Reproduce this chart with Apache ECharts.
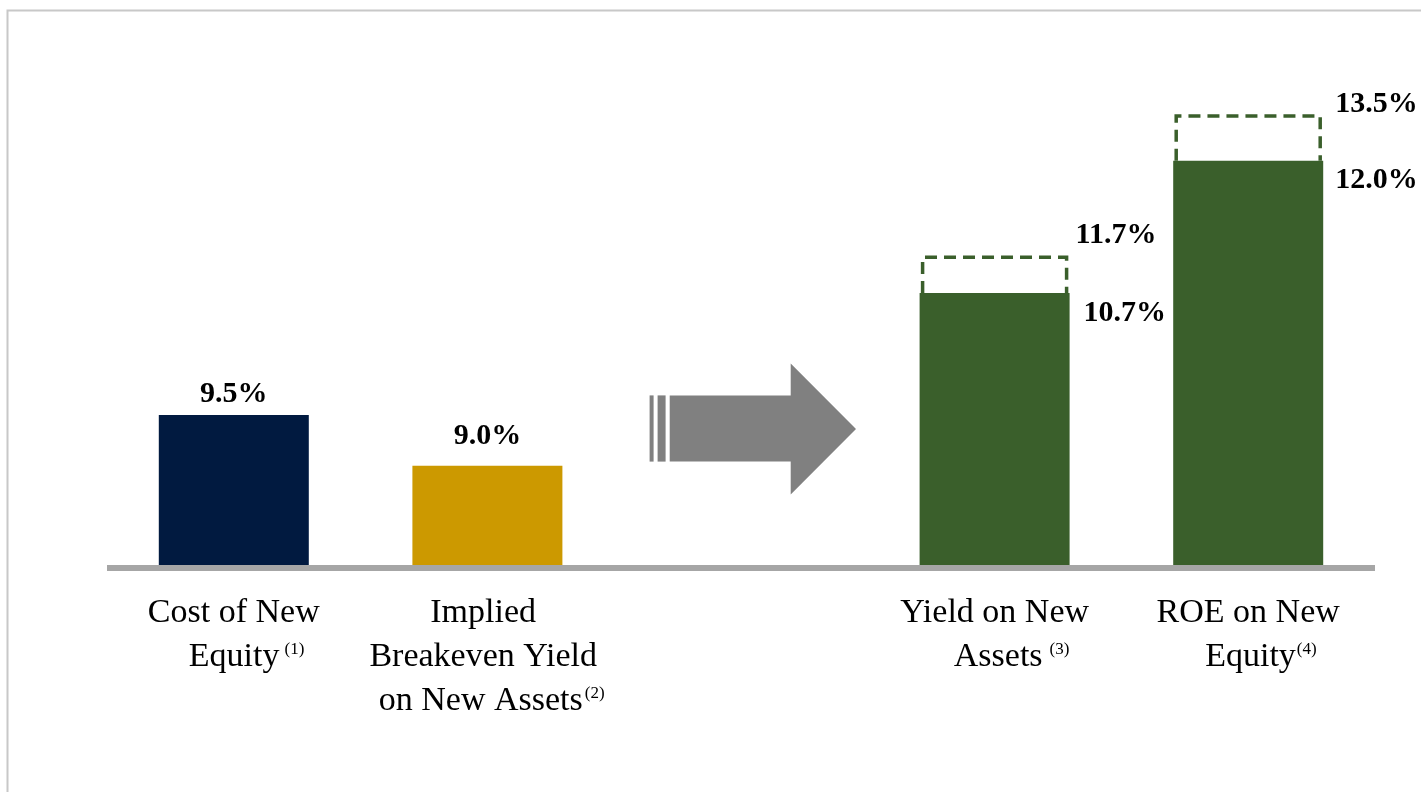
<!DOCTYPE html>
<html>
<head>
<meta charset="utf-8">
<script src="https://cdn.jsdelivr.net/npm/echarts@6/dist/echarts.min.js"></script>
<style>
html,body{margin:0;padding:0;background:#ffffff;}
#chart{width:1421px;height:792px;}
</style>
</head>
<body>
<div id="chart"></div>
<script>
// ---- data ----
const categories = [
  'Cost of New\nEquity',
  'Implied\nBreakeven Yield\non New Assets',
  '',
  'Yield on New\nAssets',
  'ROE on New\nEquity'
];
const footnotes = ['(1)', '(2)', '', '(3)', '(4)'];
const baseValues = [9.5, 9.0, null, 10.7, 12.0];
const upsideValues = [null, null, null, 11.7, 13.5];
// drawn height of the dashed "upside" boxes (the source draws them not to scale)
const upsideBoxHeights = [null, null, null, 0.35, 0.44];

// ---- styles / layout ----
const barColors = ['#011A40', '#CC9900', null, '#3A5F2B', '#3A5F2B'];
const green = '#3A5F2B';
const BAR_W = 150;
const lineIndent = [[0, 3], [0, 0, 1], [], [0, 4], [0, 3]];
const lineTrail = [[0, 0], [1, 1, 0], [], [0, 0], [0, 0]];
const footPad = [5, 2, 0, 7, 1];
const serif = '"Liberation Serif", "Times New Roman", serif';

const valueLabelBase = {
  show: true,
  fontFamily: serif,
  fontWeight: 'bold',
  fontSize: 30,
  color: '#000000'
};
const baseLabelLayout = [
  { position: 'top', distance: 6 },
  { position: 'top', distance: 15 },
  null,
  { position: ['100%', 0], align: 'left', verticalAlign: 'middle', offset: [14, 20] },
  { position: ['100%', 0], align: 'left', verticalAlign: 'middle', offset: [12, 20] }
];
const upsideLabelLayout = [
  null, null, null,
  { position: ['100%', 0], align: 'left', verticalAlign: 'middle', offset: [6, -22] },
  { position: ['100%', 0], align: 'left', verticalAlign: 'middle', offset: [12, -12] }
];

const baseData = baseValues.map((v, i) => v == null ? '-' : {
  value: v,
  itemStyle: { color: barColors[i] },
  label: Object.assign({}, valueLabelBase, baseLabelLayout[i])
});
const upsideData = upsideBoxHeights.map((v, i) => v == null ? '-' : {
  value: v,
  label: Object.assign({}, valueLabelBase, upsideLabelLayout[i])
});
const outlineData = [];
upsideBoxHeights.forEach((h, i) => {
  if (h != null) outlineData.push([i, baseValues[i], baseValues[i] + h]);
});

function sp(n) { return ' '.repeat(n); }

const chart = echarts.init(document.getElementById('chart'));
chart.setOption({
  backgroundColor: '#ffffff',
  animation: false,
  grid: { left: 107, right: 46, top: 59, bottom: 224.5, containLabel: false },
  xAxis: {
    type: 'category',
    data: categories,
    z: 10,
    axisLine: { show: true, lineStyle: { color: '#A6A6A6', width: 6, cap: 'butt' } },
    axisTick: { show: false },
    splitLine: { show: false },
    axisLabel: {
      interval: 0,
      margin: 24,
      formatter: function (value, index) {
        if (!value) return '';
        const lines = value.split('\n');
        return lines.map((ln, li) => {
          const ind = (lineIndent[index] && lineIndent[index][li]) || 0;
          const tr = (lineTrail[index] && lineTrail[index][li]) || 0;
          let s = '{t|' + sp(ind) + ln + sp(tr) + '}';
          if (li === lines.length - 1 && footnotes[index]) {
            s = '{t|' + sp(ind) + ln + '}{s' + index + '|' + footnotes[index] + '}';
          }
          return s;
        }).join('\n');
      },
      rich: (function () {
        const r = { t: { fontFamily: serif, fontSize: 34, lineHeight: 44, color: '#000000' } };
        footPad.forEach((p, i) => {
          r['s' + i] = { fontFamily: serif, fontSize: 17, lineHeight: 20, color: '#000000', verticalAlign: 'top', padding: [6, 0, 0, p] };
        });
        return r;
      })()
    }
  },
  yAxis: {
    type: 'value',
    min: 8,
    max: 13,
    show: false,
    splitLine: { show: false }
  },
  series: [
    {
      name: 'Base',
      type: 'bar',
      stack: 'total',
      barWidth: BAR_W,
      data: baseData,
      label: Object.assign({}, valueLabelBase, {
        formatter: p => p.value.toFixed(1) + '%'
      })
    },
    {
      name: 'Upside',
      type: 'bar',
      stack: 'total',
      barWidth: BAR_W,
      data: upsideData,
      itemStyle: { color: 'rgba(0,0,0,0)', borderWidth: 0 },
      label: Object.assign({}, valueLabelBase, {
        formatter: p => upsideValues[p.dataIndex].toFixed(1) + '%'
      })
    },
    {
      name: 'UpsideOutline',
      type: 'custom',
      silent: true,
      z: 3,
      data: outlineData,
      encode: { x: 0, y: [1, 2] },
      renderItem: function (params, api) {
        const bottom = api.coord([api.value(0), api.value(1)]);
        const top = api.coord([api.value(0), api.value(2)]);
        const inset = 3;
        const x0 = bottom[0] - BAR_W / 2 + inset;
        const x1 = bottom[0] + BAR_W / 2 - inset;
        return {
          type: 'polyline',
          shape: { points: [[x0, bottom[1]], [x0, top[1]], [x1, top[1]], [x1, bottom[1]]] },
          style: { stroke: green, lineWidth: 3.5, fill: null, lineDash: [12, 7], lineJoin: 'miter' }
        };
      }
    }
  ],
  graphic: [
    {
      type: 'rect', silent: true, z: -10,
      shape: { x: 7.5, y: 10.5, width: 1600, height: 1000 },
      style: { fill: 'none', stroke: '#C8C8C8', lineWidth: 2 }
    },
    {
      type: 'group', silent: true,
      children: [
        { type: 'rect', shape: { x: 649.6, y: 395.4, width: 4, height: 66.2 }, style: { fill: '#808080' } },
        { type: 'rect', shape: { x: 657.6, y: 395.4, width: 8, height: 66.2 }, style: { fill: '#808080' } },
        {
          type: 'polygon',
          shape: { points: [[669.7, 395.4], [790.7, 395.4], [790.7, 363.5], [856, 429], [790.7, 494.6], [790.7, 461.6], [669.7, 461.6]] },
          style: { fill: '#808080' }
        }
      ]
    }
  ]
});
</script>
</body>
</html>
